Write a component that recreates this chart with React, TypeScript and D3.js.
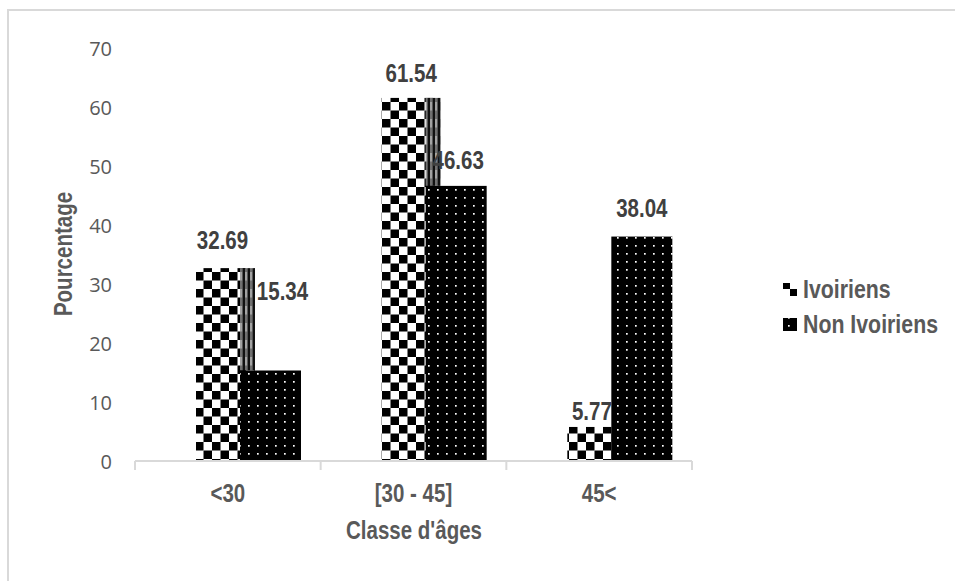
import React from "react"
import * as d3 from "d3"

const categories = ["<30", "[30 - 45]", "45<"]
const seriesNames = ["Ivoiriens", "Non Ivoiriens"]
const ivoiriens = [32.69, 61.54, 5.77]
const nonIvoiriens = [15.34, 46.63, 38.04]
const yTicks = [0, 10, 20, 30, 40, 50, 60, 70]

// hand-placed label nudges, as in the source chart
const labelDy = [[19, 16, 7], [70, 17, 20]]
const labelDx = [[-3, 0, -5], [12, 2, 0]]

const W = 955, H = 581
const GREY = "#595959"

// no narrow font installed, so squeeze Liberation Sans bold horizontally
function Narrow({ x, y, rotate = 0, anchor = "start", size = 25, fill = GREY, children }: any) {
  return (
    <g transform={`translate(${x},${y}) rotate(${rotate}) scale(0.82,1)`}>
      <text textAnchor={anchor} fill={fill} fontFamily="'Liberation Sans', Arial, sans-serif"
        fontWeight={700} fontSize={size}>{children}</text>
    </g>
  )
}

export default function App() {
  const x0 = d3.scaleBand().domain(categories).range([135, 692])
  const x1 = d3.scalePoint().domain(seriesNames).range([61, 105])
  const barW = [59, 61]
  const y = d3.scaleLinear().domain([0, 70]).range([461, 48])
  const series = [ivoiriens, nonIvoiriens]
  const fills = ["url(#checker)", "url(#dots)"]

  return (
    <svg width={W} height={H} style={{ position: "absolute", left: 0, top: 0, background: "#fff" }}>
      <defs>
        <pattern id="checker" patternUnits="userSpaceOnUse" width={17} height={17} x={195} y={0}>
          <rect width={17} height={17} fill="#fff" />
          <rect width={8.5} height={8.5} fill="#000" />
          <rect x={8.5} y={8.5} width={8.5} height={8.5} fill="#000" />
        </pattern>
        <pattern id="stripes" patternUnits="userSpaceOnUse" width={5} height={17} x={0} y={0}>
          <rect width={5} height={17} fill="#a3a3a3" />
          <rect x={2.5} width={2.5} height={17} fill="#111" />
          <rect x={0} y={8.5} width={2.5} height={8.5} fill="#333" opacity={0.45} />
        </pattern>
        <pattern id="dots" patternUnits="userSpaceOnUse" width={9} height={8} x={2} y={2}>
          <rect width={9} height={8} fill="#000" />
          <rect x={3} y={3} width={1.7} height={1.7} fill="#fff" />
        </pattern>
      </defs>

      {/* chart frame */}
      <rect x={8} y={10} width={W + 10} height={H + 10} fill="none" stroke="#d9d9d9" strokeWidth={2} />

      {/* y tick labels */}
      {yTicks.map(t => (
        <text key={t} x={112} y={y(t) + 8} textAnchor="end" fill={GREY}
          fontFamily="'Open Sans', sans-serif" fontSize={20}>{t}</text>
      ))}

      {/* bars */}
      {categories.map((c, ci) => {
        const gx = x0(c)!
        const ivX = gx + x1(seriesNames[0])!
        const nonX = gx + x1(seriesNames[1])!
        const ivTop = y(ivoiriens[ci])
        const nonTop = y(nonIvoiriens[ci])
        return (
          <g key={c}>
            <rect x={ivX} y={ivTop} width={barW[0]} height={y(0) - ivTop} fill={fills[0]} />
            {ivTop < nonTop && (
              <rect x={nonX} y={ivTop} width={ivX + barW[0] - nonX} height={nonTop - ivTop} fill="url(#stripes)" />
            )}
            <rect x={nonX} y={nonTop} width={barW[1]} height={y(0) - nonTop} fill={fills[1]} />
          </g>
        )
      })}

      {/* data labels */}
      {series.map((vals, si) =>
        vals.map((v, ci) => (
          <Narrow key={`${si}-${ci}`}
            x={x0(categories[ci])! + x1(seriesNames[si])! + barW[si] / 2 + labelDx[si][ci]}
            y={y(v) - labelDy[si][ci]} anchor="middle" fill="#404040" size={25}>
            {v.toFixed(2)}
          </Narrow>
        ))
      )}

      {/* x axis */}
      <line x1={135} x2={692} y1={y(0)} y2={y(0)} stroke="#d9d9d9" strokeWidth={2} />
      {[...categories.map(c => x0(c)!), 692].map((tx, i) => (
        <line key={i} x1={tx} x2={tx} y1={y(0)} y2={y(0) + 9} stroke="#d9d9d9" strokeWidth={2} />
      ))}
      {categories.map(c => (
        <Narrow key={c} x={x0(c)! + x0.bandwidth() / 2} y={502} anchor="middle" size={25}>{c}</Narrow>
      ))}

      {/* axis titles */}
      <Narrow x={414} y={539} anchor="middle" size={25}>Classe d'âges</Narrow>
      <Narrow x={72} y={254} rotate={-90} anchor="middle" size={25}>Pourcentage</Narrow>

      {/* legend */}
      {seriesNames.map((s, i) => (
        <g key={s}>
          <rect x={783} y={283 + i * 35} width={14} height={13} fill={fills[i]} />
          <Narrow x={803} y={298 + i * 35} size={26}>{s}</Narrow>
        </g>
      ))}
    </svg>
  )
}
